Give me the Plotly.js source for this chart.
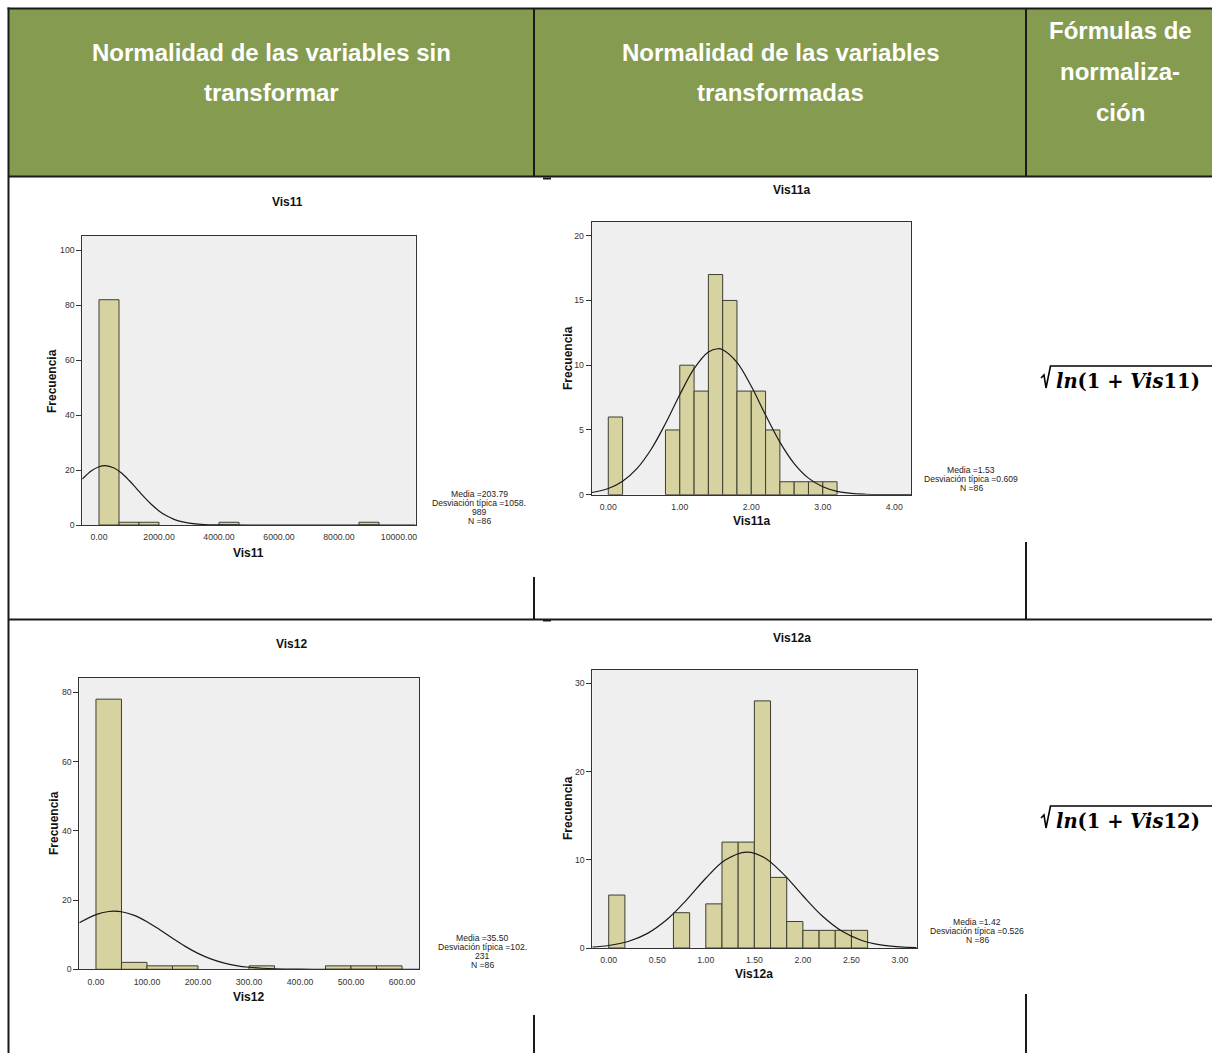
<!DOCTYPE html>
<html>
<head>
<meta charset="utf-8">
<script src="https://cdn.plot.ly/plotly-3.0.1.min.js"></script>
<style>
  html, body { margin: 0; padding: 0; background: #ffffff; }
  #chart { width: 1212px; height: 1053px; }
</style>
</head>
<body>
<div id="chart"></div>
<script>
// ---------------- DATA ----------------
const headerCol1 = ["Normalidad de las variables sin", "transformar"];
const headerCol2 = ["Normalidad de las variables", "transformadas"];
const headerCol3 = ["Fórmulas de", "normaliza-", "ción"];

const varNames = ["Vis11", "Vis11a", "Vis12", "Vis12a"];
const formulaVars = ["Vis11", "Vis12"];

// Vis11 histogram
const vis11BinStart = [0, 666.67, 1333.33, 4000, 8666.67];
const vis11Counts = [82, 1, 1, 1, 1];
const vis11BinWidth = 666.67;
const vis11CurveX = [-557, -250, 0, 203.79, 500, 750, 1000, 1250, 1500, 1750, 2000, 2250, 2500, 2750, 3000, 3500, 4000, 5000, 7000, 10557];
const vis11CurveY = [16.69, 19.71, 21.2, 21.6, 20.77, 18.91, 16.28, 13.26, 10.21, 7.44, 5.13, 3.34, 2.06, 1.2, 0.66, 0.17, 0.035, 0, 0, 0];
const vis11Stats = ["Media =203.79", "Desviación típica =1058.", "989", "N =86"];

// Vis11a histogram
const vis11aBinStart = [0, 0.8, 1.0, 1.2, 1.4, 1.6, 1.8, 2.0, 2.2, 2.4, 2.6, 2.8, 3.0];
const vis11aCounts = [6, 5, 10, 8, 17, 15, 8, 8, 5, 1, 1, 1, 1];
const vis11aBinWidth = 0.2;
const vis11aCurveX = [-0.232, 0, 0.2, 0.4, 0.6, 0.8, 1.0, 1.2, 1.4, 1.53, 1.6, 1.8, 2.0, 2.2, 2.4, 2.6, 2.8, 3.0, 3.2, 3.4, 3.6, 3.8, 4.0, 4.234];
const vis11aCurveY = [0.172, 0.48, 1.038, 2.015, 3.512, 5.494, 7.718, 9.732, 11.017, 11.27, 11.196, 10.215, 8.368, 6.153, 4.062, 2.407, 1.281, 0.612, 0.262, 0.101, 0.035, 0.011, 0.003, 0.0005];
const vis11aStats = ["Media =1.53", "Desviación típica =0.609", "N =86"];

// Vis12 histogram
const vis12BinStart = [0, 50, 100, 150, 300, 450, 500, 550];
const vis12Counts = [78, 2, 1, 1, 1, 1, 1, 1];
const vis12BinWidth = 50;
const vis12CurveX = [-32.7, 0, 25, 35.5, 50, 75, 100, 125, 150, 175, 200, 225, 250, 275, 300, 325, 350, 400, 450, 500, 633.3];
const vis12CurveY = [13.43, 15.8, 16.69, 16.78, 16.61, 15.57, 13.75, 11.44, 8.96, 6.62, 4.6, 3.01, 1.86, 1.08, 0.59, 0.3, 0.148, 0.029, 0.004, 0, 0];
const vis12Stats = ["Media =35.50", "Desviación típica =102.", "231", "N =86"];

// Vis12a histogram
const vis12aBinStart = [0, 0.6667, 1.0, 1.1667, 1.3333, 1.5, 1.6667, 1.8333, 2.0, 2.1667, 2.3333, 2.5];
const vis12aCounts = [6, 4, 5, 12, 12, 28, 8, 3, 2, 2, 2, 2];
const vis12aBinWidth = 0.16667;
const vis12aCurveX = [-0.169, 0, 0.2, 0.4, 0.6, 0.8, 1.0, 1.2, 1.42, 1.6, 1.8, 2.0, 2.2, 2.4, 2.6, 2.8, 3.0, 3.172];
const vis12aCurveY = [0.113, 0.284, 0.738, 1.659, 3.225, 5.426, 7.904, 9.959, 10.87, 10.252, 8.374, 5.919, 3.621, 1.916, 0.878, 0.348, 0.119, 0.042];
const vis12aStats = ["Media =1.42", "Desviación típica =0.526", "N =86"];

// ---------------- LAYOUT HELPERS ----------------
const W = 1212, H = 1053;
const px = x => x / W;
const py = y => 1 - y / H;

const barFill = "rgb(214,211,160)";
const barLine = "rgb(62,62,50)";
const textFont = "Liberation Sans, Arial, sans-serif";

function barTrace(starts, counts, width, ax) {
  return {
    type: "bar", x: starts, y: counts, width: width, offset: 0,
    marker: { color: barFill, line: { color: barLine, width: 1 } },
    xaxis: "x" + ax, yaxis: "y" + ax, hoverinfo: "x+y"
  };
}
function curveTrace(xs, ys, ax) {
  return {
    type: "scatter", mode: "lines", x: xs, y: ys,
    line: { color: "#1a1a1a", width: 1.2, shape: "spline", smoothing: 1 },
    xaxis: "x" + ax, yaxis: "y" + ax, hoverinfo: "skip", cliponaxis: true
  };
}

const data = [
  barTrace(vis11BinStart, vis11Counts, vis11BinWidth, ""),
  curveTrace(vis11CurveX, vis11CurveY, ""),
  barTrace(vis11aBinStart, vis11aCounts, vis11aBinWidth, "2"),
  curveTrace(vis11aCurveX, vis11aCurveY, "2"),
  barTrace(vis12BinStart, vis12Counts, vis12BinWidth, "3"),
  curveTrace(vis12CurveX, vis12CurveY, "3"),
  barTrace(vis12aBinStart, vis12aCounts, vis12aBinWidth, "4"),
  curveTrace(vis12aCurveX, vis12aCurveY, "4")
];

function xAx(domainPx, range, dtick, anchor) {
  return {
    domain: [px(domainPx[0]), px(domainPx[1])], range: range, anchor: anchor,
    tick0: 0, dtick: dtick, tickformat: ".2f",
    ticks: "outside", ticklen: 4, tickcolor: "rgba(0,0,0,0)",
    showline: true, mirror: true, linecolor: "#333", linewidth: 1,
    showgrid: false, zeroline: false,
    tickfont: { family: textFont, size: 8.7, color: "#333" }
  };
}
function yAx(domainPx, range, dtick, anchor) {
  return {
    domain: [py(domainPx[1]), py(domainPx[0])], range: range, anchor: anchor,
    tick0: 0, dtick: dtick, ticks: "outside", ticklen: 5, tickcolor: "#333",
    showline: true, mirror: true, linecolor: "#333", linewidth: 1,
    showgrid: false, zeroline: false,
    tickfont: { family: textFont, size: 8.7, color: "#333" }
  };
}

const annotations = [];
function ann(text, x, y, size, opts) {
  annotations.push(Object.assign({
    text: text, x: px(x), y: py(y), xref: "paper", yref: "paper",
    showarrow: false, xanchor: "center", yanchor: "middle",
    font: { family: textFont, size: size, color: "#111" }
  }, opts || {}));
}

// header texts
const headFont = { family: textFont, size: 24, color: "#ffffff" };
headerCol1.forEach((t, i) => ann("<b>" + t + "</b>", 271, 52 + 41 * i, 24, { font: headFont }));
headerCol2.forEach((t, i) => ann("<b>" + t + "</b>", 780, 52 + 41 * i, 24, { font: headFont }));
headerCol3.forEach((t, i) => ann("<b>" + t + "</b>", 1120, 31 + 41 * i, 24, { font: headFont }));

// chart titles
const titlePos = [[287, 202], [791, 190], [291, 644], [792, 638]];
varNames.forEach((v, i) => ann("<b>" + v + "</b>", titlePos[i][0], titlePos[i][1], 12));
// x-axis titles
const xTitlePos = [[249, 553], [751, 521], [249, 997], [754, 974]];
varNames.forEach((v, i) => ann("<b>" + v + "</b>", xTitlePos[i][0], xTitlePos[i][1], 12));
// y-axis titles
const yTitlePos = [[52, 381], [568, 358], [54, 823], [568, 808]];
yTitlePos.forEach(p => ann("<b>Frecuencia</b>", p[0], p[1], 12, { textangle: -90 }));

// stats boxes
function stats(lines, cx, y0) {
  lines.forEach((t, i) => ann(t, cx, y0 + 9 * i, 8.6, { font: { family: textFont, size: 8.6, color: "#222" } }));
}
stats(vis11Stats, 479, 494);
stats(vis11aStats, 971, 470);
stats(vis12Stats, 482, 938);
stats(vis12aStats, 977, 922);

// formulas
const formulaY = [381, 821];
formulaVars.forEach((v, i) => {
  annotations.push({
    text: "<b><i>ln</i>(1 + <i>Vis</i>" + v.replace("Vis", "") + ")</b>",
    x: px(1054), y: py(formulaY[i]), xref: "paper", yref: "paper",
    showarrow: false, xanchor: "left", yanchor: "middle",
    font: { family: "DejaVu Serif, serif", size: 19.5, color: "#000" }
  });
});

// ---------------- SHAPES (table) ----------------
const shapes = [];
const lineC = "#1a1a1a";
function rect(x0, y0, x1, y1, color) {
  shapes.push({ type: "rect", xref: "paper", yref: "paper", x0: px(x0), x1: px(x1), y0: py(y1), y1: py(y0),
    fillcolor: color, line: { width: 0 }, layer: "below" });
}
function seg(x0, y0, x1, y1, w) {
  shapes.push({ type: "line", xref: "paper", yref: "paper", x0: px(x0), x1: px(x1), y0: py(y0), y1: py(y1),
    line: { color: lineC, width: w || 2 } });
}
rect(9, 9, 1212, 176, "#859c50");
seg(7.5, 8.5, 1212, 8.5);
seg(8.5, 7.5, 8.5, 1053);
seg(8, 176.5, 1212, 176.5);
seg(534, 8, 534, 177);
seg(1026, 8, 1026, 177);
seg(8, 619.5, 1212, 619.5);
seg(543, 178.5, 551, 178.5, 2);
seg(543, 620.5, 551, 620.5, 2);
seg(534, 577, 534, 620);
seg(1026, 542, 1026, 620);
seg(534, 1015, 534, 1053);
seg(1026, 994, 1026, 1053);

// radical signs
formulaY.forEach(fy => {
  const top = fy - 15;
  const p = [[1041, fy - 3], [1044, fy - 6], [1046, fy + 7], [1050.5, top], [1212, top]];
  const d = "M " + p.map(q => px(q[0]) + "," + py(q[1])).join(" L ");
  shapes.push({ type: "path", xref: "paper", yref: "paper", path: d, line: { color: "#000", width: 1.6 } });
});

const layout = {
  width: W, height: H,
  margin: { l: 0, r: 0, t: 0, b: 0 },
  paper_bgcolor: "#ffffff",
  plot_bgcolor: "#efefef",
  showlegend: false,
  bargap: 0,
  xaxis: xAx([82.3, 415.7], [-557, 10557], 2000, "y"),
  yaxis: yAx([235.7, 525], [0, 105.3], 20, "x"),
  xaxis2: xAx([591.7, 911], [-0.232, 4.234], 1, "y2"),
  yaxis2: yAx([221.7, 494.7], [0, 21.08], 5, "x2"),
  xaxis3: xAx([79.3, 419], [-32.7, 633.3], 100, "y3"),
  yaxis3: yAx([677.7, 969.3], [0, 84.2], 20, "x3"),
  xaxis4: xAx([592.3, 916.7], [-0.169, 3.172], 0.5, "y4"),
  yaxis4: yAx([670, 948], [0, 31.5], 10, "x4"),
  annotations: annotations,
  shapes: shapes
};

Plotly.newPlot("chart", data, layout, { displayModeBar: false, staticPlot: true });
</script>
</body>
</html>
